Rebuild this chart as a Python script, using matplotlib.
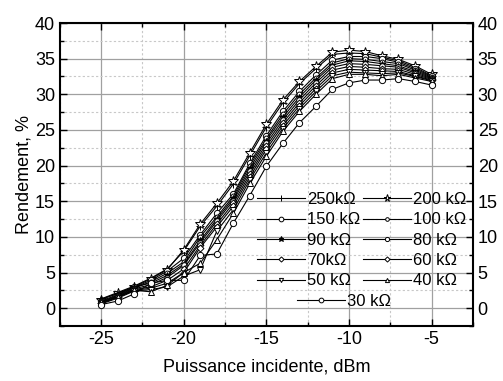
import numpy as np
import matplotlib.pyplot as plt
from matplotlib.lines import Line2D

plt.rcParams['font.family'] = ['Liberation Sans', 'DejaVu Sans']
plt.rcParams['axes.unicode_minus'] = False

# Input power, dBm
p_in = [-25, -24, -23, -22, -21, -20, -19, -18, -17, -16, -15,
        -14, -13, -12, -11, -10, -9, -8, -7, -6, -5]

# Efficiency (%) per load
eff_250k = [1.3, 2.2, 3.1, 4.2, 5.5, 8.0, 11.5, 14.3, 17.4, 21.4, 25.4, 28.8, 31.5, 33.6, 35.6, 35.8, 35.7, 35.2, 34.7, 33.8, 32.6]
eff_200k = [1.2, 2.1, 3.0, 4.1, 5.4, 8.2, 11.8, 14.7, 17.8, 21.8, 25.8, 29.2, 31.8, 33.9, 35.9, 36.2, 36.0, 35.4, 34.9, 34.0, 32.8]
eff_150k = [1.0, 1.9, 2.9, 3.9, 5.2, 7.0, 10.3, 13.3, 16.0, 20.3, 24.2, 27.6, 30.4, 32.7, 34.8, 35.3, 35.3, 35.0, 34.5, 33.6, 32.5]
eff_100k = [0.9, 1.8, 2.8, 3.7, 4.9, 6.5, 10.0, 12.8, 15.7, 20.0, 23.8, 27.2, 30.0, 32.3, 34.4, 35.0, 34.9, 34.6, 34.3, 33.4, 32.4]
eff_90k = [1.3, 2.0, 3.0, 3.5, 4.6, 6.2, 9.5, 12.5, 15.4, 19.6, 23.5, 26.8, 29.6, 32.0, 34.1, 34.7, 34.6, 34.3, 34.0, 33.2, 32.3]
eff_80k = [0.8, 1.7, 2.7, 3.3, 4.3, 6.0, 9.2, 12.2, 15.1, 19.2, 23.1, 26.4, 29.2, 31.6, 33.8, 34.3, 34.2, 34.0, 33.8, 33.0, 32.2]
eff_70k = [0.7, 1.6, 2.6, 3.0, 3.9, 5.5, 8.8, 11.8, 14.7, 18.8, 22.7, 26.0, 28.8, 31.2, 33.4, 33.9, 33.8, 33.6, 33.5, 32.8, 32.1]
eff_60k = [0.7, 1.5, 2.5, 2.8, 3.5, 5.0, 8.5, 11.4, 14.3, 18.4, 22.3, 25.6, 28.4, 30.8, 33.0, 33.5, 33.4, 33.3, 33.2, 32.6, 32.0]
eff_50k = [0.6, 1.4, 2.4, 2.6, 3.0, 4.5, 5.4, 10.8, 13.8, 18.0, 21.8, 25.2, 28.0, 30.4, 32.6, 33.1, 33.0, 32.9, 33.0, 32.5, 31.9]
eff_40k = [0.8, 1.6, 2.5, 2.3, 3.2, 5.0, 6.3, 9.6, 13.3, 17.5, 21.3, 24.8, 27.6, 30.0, 32.2, 32.8, 32.8, 32.6, 32.8, 32.3, 31.8]
eff_30k = [0.5, 1.0, 2.0, 3.5, 3.9, 3.9, 7.4, 7.6, 11.9, 15.8, 19.9, 23.1, 26.0, 28.3, 30.7, 31.6, 32.0, 32.0, 32.2, 31.8, 31.3]

labels = ['250k\u03a9', '200 k\u03a9', '150 k\u03a9', '100 k\u03a9', '90 k\u03a9', '80 k\u03a9',
          '70k\u03a9', '60 k\u03a9', '50 k\u03a9', '40 k\u03a9', '30 k\u03a9']
series = [eff_250k, eff_200k, eff_150k, eff_100k, eff_90k, eff_80k,
          eff_70k, eff_60k, eff_50k, eff_40k, eff_30k]
markers = ['+', '*', 'o', 'o', '*', 'o', 'D', 'D', 'v', '^', 'o']
fills = ['white', 'white', 'white', 'white', 'black', 'white',
         'white', 'white', 'white', 'white', 'white']
msizes = [6, 7, 4.5, 3.5, 5, 4, 3.5, 3.5, 4, 4, 4.5]

fig = plt.figure(figsize=(5.03, 3.81), dpi=100)
ax = fig.add_axes([0.119, 0.1444, 0.821, 0.7952])

for y, lab, m, fc, ms in zip(series, labels, markers, fills, msizes):
    ax.plot(p_in, y, color='black', lw=0.8, marker=m, ms=ms,
            mfc=fc, mec='black', mew=0.7, label=lab)

ax.set_xlim(-27.5, -2.5)
ax.set_ylim(-2.5, 40)
ax.set_xticks([-25, -20, -15, -10, -5])
ax.set_xticks(np.arange(-27.5, -2.4, 2.5), minor=True)
ax.set_yticks(np.arange(0, 41, 5))
ax.set_yticks(np.arange(-2.5, 40.1, 2.5), minor=True)

ax.grid(which='major', color='#a0a0a0', lw=0.9, ls='-')
ax.grid(which='minor', color='#c8c8c8', lw=0.8, ls=(0, (2, 2)))
ax.set_axisbelow(True)

ax.tick_params(which='both', direction='in', top=True, right=True,
               labelright=True, labelsize=13, width=1.0)
ax.tick_params(which='major', length=5)
ax.tick_params(which='minor', length=3)
for s in ax.spines.values():
    s.set_linewidth(1.5)

ax.set_xlabel('Puissance incidente, dBm', fontsize=13, labelpad=8)
ax.set_ylabel('Rendement, %', fontsize=13, labelpad=2)

# legend: two columns, last entry centred underneath
order = [0, 2, 4, 6, 8, 1, 3, 5, 7, 9]
leg_handles = []
for i in order:
    leg_handles.append(Line2D([], [], color='black', lw=0.8, marker=markers[i],
                              ms=msizes[i] * 0.75, mfc=fills[i], mec='black', mew=0.7))
leg_kw = dict(frameon=False, fontsize=12, handlelength=2.9, handletextpad=0.1,
              borderpad=0, borderaxespad=0)
leg1 = ax.legend(leg_handles, [labels[i] for i in order], ncol=2,
                 loc='upper left', bbox_to_anchor=(0.477, 0.442),
                 columnspacing=0.15, labelspacing=0.32, **leg_kw)
ax.add_artist(leg1)
h30 = Line2D([], [], color='black', lw=0.8, marker='o', ms=3.4, mfc='white', mec='black', mew=0.7)
ax.legend([h30], [labels[10]], loc='upper left', bbox_to_anchor=(0.574, 0.105), **leg_kw)

fig.savefig('out.png', dpi=100)
